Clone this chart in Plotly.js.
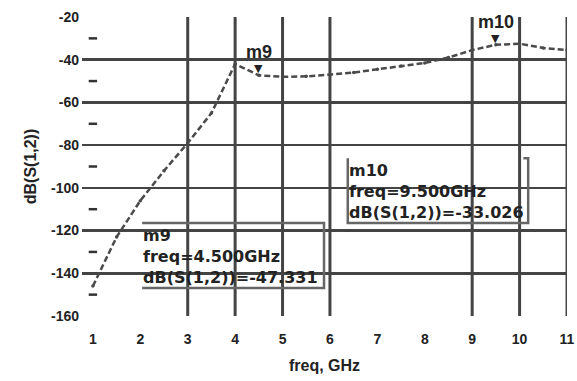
<!DOCTYPE html>
<html>
<head>
<meta charset="utf-8">
<script src="https://cdn.plot.ly/plotly-3.0.1.min.js"></script>
<style>html,body{margin:0;padding:0;background:#fff;}#chart{width:577px;height:381px;}</style>
</head>
<body>
<div id="chart"></div>
<script>
// Frequency (GHz) and dB(S(1,2)) values
const freq = [1, 1.5, 2, 2.5, 3, 3.5, 4, 4.5, 5, 5.5, 6, 6.5, 7, 7.5, 8, 8.5, 9, 9.5, 10, 10.5, 11];
const s12dB = [-146, -123, -106, -92, -79, -65, -42, -47.3, -48, -47.8, -47, -46, -44.5, -43, -41.5, -39, -35.5, -33.0, -32.5, -34.5, -35.5];

// Markers
const markerNames = ["m9", "m10"];
const markerFreq = [4.5, 9.5];
const markerVal = [-47.331, -33.026];

// Axis ticks
const xTicks = [1, 2, 3, 4, 5, 6, 7, 8, 9, 10, 11];
const yTicks = [-20, -40, -60, -80, -100, -120, -140, -160];
const yMinor = [-30, -50, -70, -90, -110, -130, -150];
const gridX = [3, 4, 5, 6, 9, 10, 11];

const FONT = '"Liberation Sans", Arial, sans-serif';
const gridColor = '#444';

const traces = [
  {
    x: freq, y: s12dB, type: 'scatter', mode: 'lines+markers',
    line: {color: '#4a4a4a', width: 2.5, dash: '6px,3px'},
    marker: {color: '#4a4a4a', size: 3.5},
    hoverinfo: 'skip', showlegend: false
  },
  {
    x: yMinor.map(() => xTicks[0]), y: yMinor, type: 'scatter', mode: 'markers',
    marker: {symbol: 'line-ew', size: 6, line: {color: '#333', width: 2.5}},
    hoverinfo: 'skip', showlegend: false
  }
];

const shapes = [];
gridX.forEach(v => shapes.push({
  type: 'line', xref: 'x', yref: 'paper', x0: v, x1: v, y0: 0, y1: 1,
  line: {color: gridColor, width: 3}, layer: 'below'
}));

// Marker readout boxes (paper coordinates)
const boxStyle = {color: '#666', width: 2.5};
shapes.push({type: 'path', xref: 'paper', yref: 'paper',
  path: 'M0.124,0.311 L0.499,0.311 L0.499,0.094 L0.124,0.094', line: boxStyle});
shapes.push({type: 'path', xref: 'paper', yref: 'paper',
  path: 'M0.548,0.528 L0.548,0.311 L0.920,0.311 L0.920,0.528 L0.910,0.528', line: boxStyle});

const annotations = [];
markerNames.forEach((n, i) => {
  annotations.push({x: markerFreq[i], y: markerVal[i], xref: 'x', yref: 'y', text: n,
    showarrow: false, xanchor: 'center', yanchor: 'bottom', yshift: 11,
    font: {family: FONT, size: 18, color: '#222', weight: 'bold'}});
  annotations.push({x: markerFreq[i], y: markerVal[i], xref: 'x', yref: 'y', text: '▼',
    showarrow: false, xanchor: 'center', yanchor: 'bottom', yshift: -2,
    font: {family: 'DejaVu Sans', size: 11, color: '#222'}});
});

function readout(i, x0, yMid) {
  const lines = [markerNames[i], 'freq=' + markerFreq[i].toFixed(3) + 'GHz',
                 'dB(S(1,2))=' + markerVal[i].toFixed(3)];
  annotations.push({
    x: x0, y: yMid, xref: 'paper', yref: 'paper', text: lines.join('<br>'), showarrow: false,
    xanchor: 'left', yanchor: 'middle', align: 'left',
    font: {family: '"DejaVu Sans", sans-serif', size: 16, color: '#222', weight: 'bold'}
  });
}
readout(0, 0.122, 0.200);
readout(1, 0.546, 0.415);

const layout = {
  width: 577, height: 381,
  margin: {l: 82, r: 10, t: 17, b: 65},
  paper_bgcolor: '#fff', plot_bgcolor: '#fff',
  font: {family: FONT, color: '#222'},
  xaxis: {
    range: [0.77, 11], tickvals: xTicks, ticktext: xTicks.map(String),
    showgrid: false, zeroline: false, showline: false,
    ticks: 'outside', ticklen: 10, tickcolor: 'rgba(0,0,0,0)',
    tickfont: {family: FONT, size: 14, color: '#222', weight: 'bold'},
    title: {text: 'freq, GHz', standoff: 14, font: {family: FONT, size: 16, color: '#222', weight: 'bold'}},
    fixedrange: true
  },
  yaxis: {
    range: [-160, -20], tickvals: yTicks, ticktext: yTicks.map(String),
    showgrid: true, gridcolor: gridColor, gridwidth: 2.5,
    zeroline: false, showline: false, ticks: '', ticklabelstandoff: 2,
    tickfont: {family: FONT, size: 14, color: '#222', weight: 'bold'},
    title: {text: 'dB(S(1,2))', standoff: 10, font: {family: FONT, size: 16, color: '#222', weight: 'bold'}},
    fixedrange: true
  },
  shapes: shapes,
  annotations: annotations,
  showlegend: false
};

Plotly.newPlot('chart', traces, layout, {displayModeBar: false, staticPlot: true});
</script>
</body>
</html>
